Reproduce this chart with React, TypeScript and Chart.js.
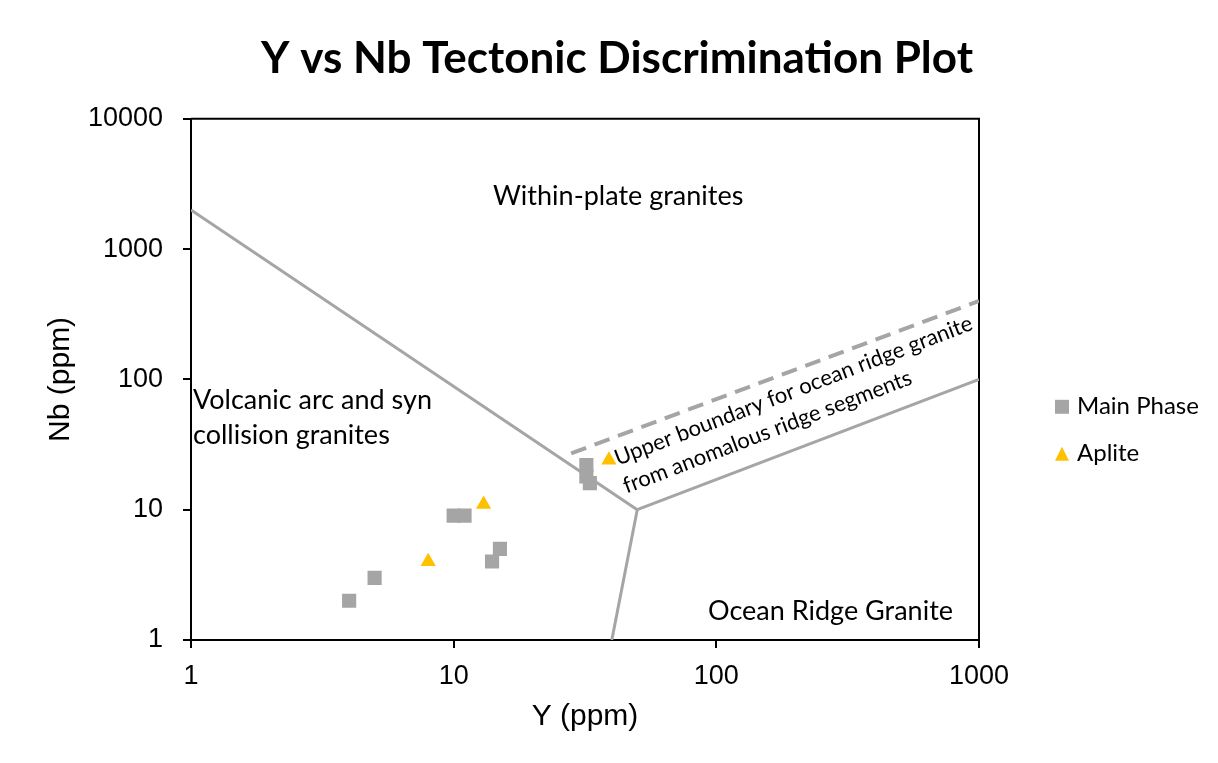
import React, { useEffect, useRef } from 'react';
import { Chart, registerables } from 'chart.js';

Chart.register(...registerables);

// Sample analyses: Y (ppm) and Nb (ppm)
const mainPhaseY = [4, 5, 10, 11, 14, 15, 32, 32, 33];
const mainPhaseNb = [2, 3, 9, 9, 4, 5, 22, 18, 16];
const apliteY = [8, 13, 39];
const apliteNb = [4, 11, 24];

// Field boundaries of the Y–Nb granite discrimination diagram
const vagWpgBoundaryY = [1, 50];
const vagWpgBoundaryNb = [2000, 10];
const orgWpgBoundaryY = [50, 1000];
const orgWpgBoundaryNb = [10, 100];
const vagOrgBoundaryY = [50, 40];
const vagOrgBoundaryNb = [10, 1];
const anomalousRidgeY = [28, 1000];
const anomalousRidgeNb = [27, 400];

// Decade tick values
const xTickValues = [1, 10, 100, 1000];
const yTickValues = [1, 10, 100, 1000, 10000];

// Texts
const titleText = 'Y vs Nb Tectonic Discrimination Plot';
const xTitle = 'Y (ppm)';
const yTitle = 'Nb (ppm)';
const wpgLabel = 'Within-plate granites';
const vagLabel = ['Volcanic arc and syn', 'collision granites'];
const orgLabel = 'Ocean Ridge Granite';
const anomalousLabel = ['Upper boundary for ocean ridge granite', 'from anomalous ridge segments'];

const GRAY = '#a5a5a5';
const GOLD = '#ffc000';
const TEXT_FONT = 'Lato, "Open Sans", sans-serif';
const AXIS_FONT = '"Liberation Sans", Arial, sans-serif';

const pairs = (xs: number[], ys: number[]) => xs.map((v, i) => ({ x: v, y: ys[i] }));

const boundary = (xs: number[], ys: number[], dashed = false) => ({
  label: '',
  data: pairs(xs, ys),
  showLine: true,
  borderColor: GRAY,
  backgroundColor: GRAY,
  borderWidth: dashed ? 4 : 3,
  borderDash: dashed ? [16, 9] : [],
  pointRadius: 0,
  pointHoverRadius: 0,
  legendEntry: false,
});

// Frame on the top and right of the plot area
const framePlugin = {
  id: 'plotFrame',
  beforeDatasetsDraw(chart: any) {
    const { ctx, chartArea: a } = chart;
    ctx.save();
    ctx.strokeStyle = '#000';
    ctx.lineWidth = 2;
    ctx.beginPath();
    ctx.moveTo(a.left, a.top);
    ctx.lineTo(a.right, a.top);
    ctx.lineTo(a.right, a.bottom);
    ctx.stroke();
    ctx.restore();
  },
};

// Field names written inside the diagram
const fieldLabelPlugin = {
  id: 'fieldLabels',
  beforeDatasetsDraw(chart: any) {
    const { ctx, chartArea: a } = chart;
    ctx.save();
    ctx.fillStyle = '#000';
    ctx.textAlign = 'left';
    ctx.textBaseline = 'alphabetic';
    ctx.font = `27px ${TEXT_FONT}`;
    ctx.fillText(wpgLabel, a.left + 302, a.top + 86);
    ctx.fillText(vagLabel[0], a.left + 2, a.top + 290);
    ctx.fillText(vagLabel[1], a.left + 2, a.top + 325);
    ctx.fillText(orgLabel, a.left + 517, a.top + 501);

    ctx.translate(a.left + 427, a.top + 347);
    ctx.rotate((-21 * Math.PI) / 180);
    ctx.font = `22px ${TEXT_FONT}`;
    ctx.fillText(anomalousLabel[0], 0, 0);
    ctx.fillText(anomalousLabel[1], -2, 29);
    ctx.restore();
  },
};

// Legend listing the sample series at the right of the plot
const sideLegendPlugin = {
  id: 'sideLegend',
  afterDraw(chart: any) {
    const { ctx, chartArea: a } = chart;
    const entries = chart.data.datasets.filter((d: any) => d.legendEntry);
    ctx.save();
    ctx.font = `24px ${TEXT_FONT}`;
    ctx.textAlign = 'left';
    ctx.textBaseline = 'alphabetic';
    entries.forEach((d: any, i: number) => {
      const cx = a.right + 83;
      const cy = a.top + 288 + i * 47;
      ctx.fillStyle = d.backgroundColor;
      ctx.beginPath();
      if (d.pointStyle === 'triangle') {
        ctx.moveTo(cx, cy - 7);
        ctx.lineTo(cx + 7, cy + 7);
        ctx.lineTo(cx - 7, cy + 7);
        ctx.closePath();
      } else {
        ctx.rect(cx - 7, cy - 7, 14, 14);
      }
      ctx.fill();
      ctx.fillStyle = '#000';
      ctx.fillText(d.label, cx + 15, cy + 7);
    });
    ctx.restore();
  },
};

const axisTicks = (values: number[]) => (s: any) => {
  s.ticks = values.map((v) => ({ value: v }));
};

export default function App() {
  const canvasRef = useRef<HTMLCanvasElement | null>(null);

  useEffect(() => {
    if (!canvasRef.current) return;
    const chart = new Chart(canvasRef.current, {
      type: 'scatter',
      data: {
        datasets: [
          {
            label: 'Main Phase',
            data: pairs(mainPhaseY, mainPhaseNb),
            pointStyle: 'rect',
            pointRadius: 10,
            pointHoverRadius: 10,
            backgroundColor: GRAY,
            borderColor: GRAY,
            borderWidth: 0,
            legendEntry: true,
          } as any,
          {
            label: 'Aplite',
            data: pairs(apliteY, apliteNb),
            pointStyle: 'triangle',
            pointRadius: 8.8,
            pointHoverRadius: 8.8,
            backgroundColor: GOLD,
            borderColor: GOLD,
            borderWidth: 0,
            legendEntry: true,
          } as any,
          boundary(vagWpgBoundaryY, vagWpgBoundaryNb) as any,
          boundary(orgWpgBoundaryY, orgWpgBoundaryNb) as any,
          boundary(vagOrgBoundaryY, vagOrgBoundaryNb) as any,
          boundary(anomalousRidgeY, anomalousRidgeNb, true) as any,
        ],
      },
      options: {
        responsive: false,
        animation: false,
        events: [],
        layout: { padding: { left: 16, right: 0, top: 0, bottom: 20 } },
        plugins: {
          legend: { display: false },
          tooltip: { enabled: false },
          title: {
            display: true,
            text: titleText,
            color: '#000',
            font: { family: TEXT_FONT, size: 44, weight: 'bold', lineHeight: 1.2 },
            padding: { top: 24, bottom: 34 },
          },
        },
        scales: {
          x: {
            type: 'logarithmic',
            position: 'bottom',
            min: 1,
            max: 1000,
            afterBuildTicks: axisTicks(xTickValues),
            afterFit: (s: any) => {
              s.height = 95;
            },
            ticks: {
              autoSkip: false,
              maxRotation: 0,
              padding: 12,
              color: '#000',
              font: { family: AXIS_FONT, size: 27 },
              callback: (v: any) => String(v),
            },
            grid: { drawOnChartArea: false, drawTicks: true, tickLength: 8, color: '#000', lineWidth: 2 },
            border: { display: true, color: '#000', width: 2 },
            title: {
              display: true,
              text: xTitle,
              color: '#000',
              font: { family: AXIS_FONT, size: 30, lineHeight: 1.2 },
              padding: { top: 0, bottom: 0 },
            },
          },
          y: {
            type: 'logarithmic',
            position: 'left',
            min: 1,
            max: 10000,
            afterBuildTicks: axisTicks(yTickValues),
            afterFit: (s: any) => {
              s.width = 167;
            },
            ticks: {
              autoSkip: false,
              padding: 20,
              color: '#000',
              font: { family: AXIS_FONT, size: 27 },
              callback: (v: any) => String(v),
            },
            grid: { drawOnChartArea: false, drawTicks: true, tickLength: 8, color: '#000', lineWidth: 2 },
            border: { display: true, color: '#000', width: 2 },
            title: {
              display: true,
              text: yTitle,
              color: '#000',
              font: { family: AXIS_FONT, size: 30, lineHeight: 1.2 },
              padding: { top: 19, bottom: 0 },
            },
          },
          // empty column on the right that holds the legend
          yLegendSpace: {
            axis: 'y',
            type: 'linear',
            position: 'right',
            display: true,
            ticks: { display: false },
            grid: { display: false },
            border: { display: false },
            afterFit: (s: any) => {
              s.width = 231;
            },
          },
        },
      } as any,
      plugins: [framePlugin, fieldLabelPlugin, sideLegendPlugin],
    });
    return () => chart.destroy();
  }, []);

  return (
    <div
      style={{
        width: 1202,
        height: 747,
        marginLeft: -1,
        marginTop: -1,
        borderLeft: '1px solid #d9d9d9',
        borderTop: '1px solid #d9d9d9',
        background: '#fff',
      }}
    >
      <canvas ref={canvasRef} width={1202} height={747} style={{ display: 'block' }} />
    </div>
  );
}
